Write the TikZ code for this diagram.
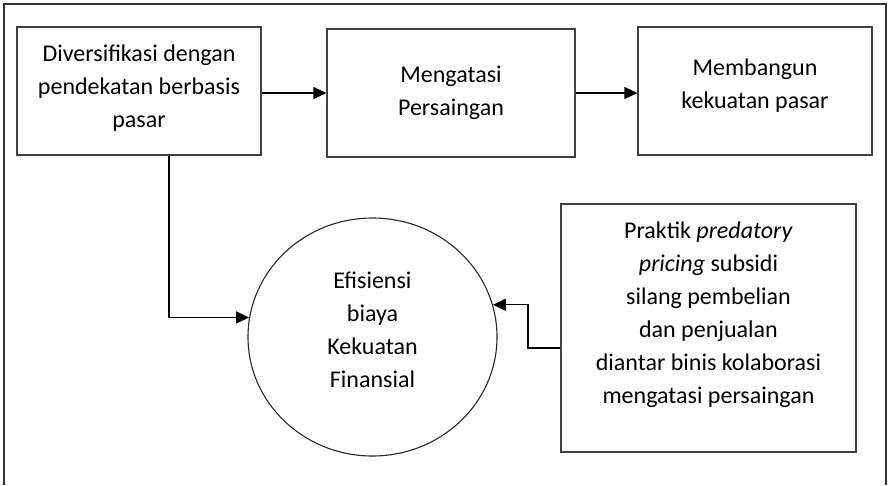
\documentclass[tikz,border=0pt]{standalone}
\usepackage{fontspec}
\setmainfont{Carlito}
\usetikzlibrary{arrows.meta,shapes.geometric}

\begin{document}
\begin{tikzpicture}[x=1pt, y=-1pt,
  every node/.style = {align=center, font=\fontsize{24}{33}\selectfont},
  box/.style = {shape=rectangle, draw=black!75, line width=1.1pt, inner sep=0pt},
  bulat/.style = {shape=ellipse, draw=black!85, line width=1.1pt, inner sep=0pt,
    minimum width=249pt, minimum height=238pt},
  panah/.style = {draw=black, line width=1.2pt, -{Triangle[length=13pt,width=12pt]}},
  bingkai/.style = {draw=black!80, line width=2.5pt}]
  \useasboundingbox (0,0) rectangle (889,485);
  \draw[bingkai] (4,485) -- (4,4) -- (886,4) -- (886,485);

  \node[box, minimum width=244pt, minimum height=128pt] (div) at (139,91)
    {Diversifikasi dengan\\pendekatan berbasis\\pasar\\[-23pt]};
  \node[box, minimum width=248pt, minimum height=128pt] (atasi) at (451,93)
    {Mengatasi\\Persaingan};
  \node[box, minimum width=234pt, minimum height=128pt] (bangun) at (755,91)
    {Membangun\\kekuatan pasar\\[-18pt]};
  \node[bulat] (efisien) at (372.5,337)
    {Efisiensi\\biaya\\Kekuatan\\Finansial\\[-18pt]};
  \node[box, minimum width=295pt, minimum height=248pt] (praktik) at (708.5,328)
    {Praktik \textit{predatory}\\\textit{pricing} subsidi\\silang pembelian\\
     dan penjualan\\diantar binis kolaborasi\\mengatasi persaingan\\[-3pt]};

  \coordinate (belok1) at (169,318);
  \coordinate (belok2) at (528,348);
  \draw[panah] (div.east |- atasi) -- (atasi.west);
  \draw[panah] (atasi.east) -- (bangun.west |- atasi);
  \draw[panah] (div.south -| belok1) |- (efisien.171);
  \draw[panah] (praktik.west |- belok2) -- (belok2) |- (efisien.15);
\end{tikzpicture}
\end{document}
